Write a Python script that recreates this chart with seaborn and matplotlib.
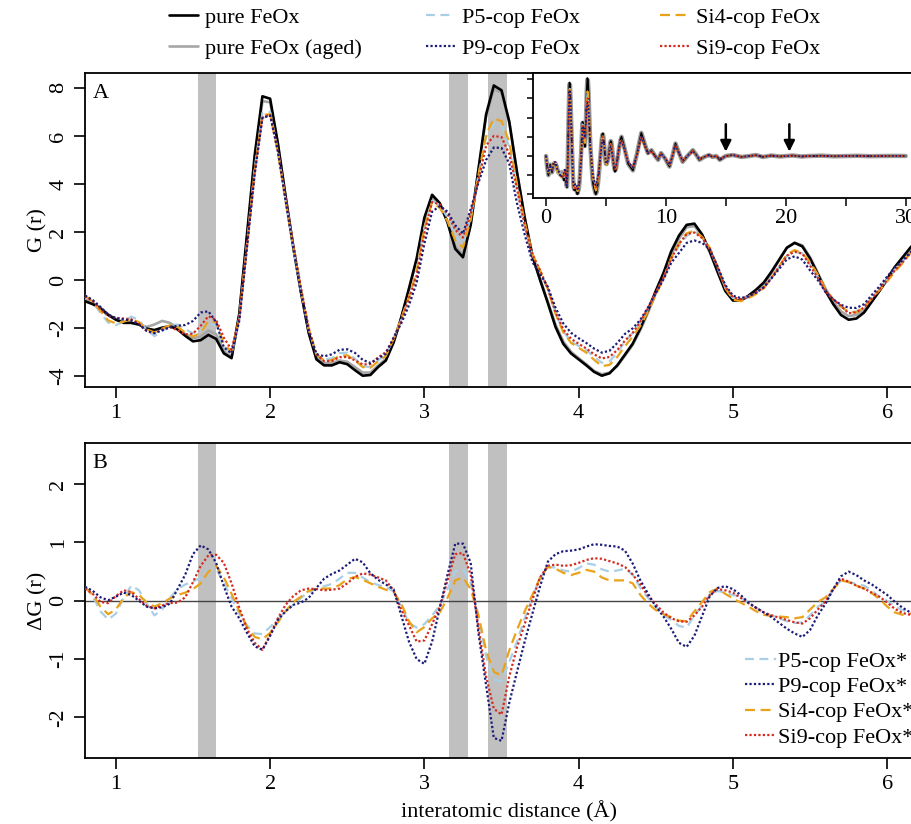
import numpy as np
import pandas as pd
import matplotlib
matplotlib.use("Agg")
import matplotlib.pyplot as plt
from matplotlib.lines import Line2D
import seaborn as sns

# interatomic distance grid (Å) for the short-range curves
r = np.round(np.arange(0.80, 6.2001, 0.05), 2)

# G(r) of the six samples (panel A)
g_pure = [-0.88, -1.00, -1.18, -1.45, -1.65, -1.78, -1.78, -1.85, -2.02, -2.08,
          -1.98, -1.92, -2.05, -2.32, -2.55, -2.50, -2.28, -2.45, -3.05, -3.25,
          -1.40, 1.90, 5.20, 7.65, 7.55, 5.70, 3.50, 1.40, -0.50, -2.20,
          -3.30, -3.55, -3.55, -3.42, -3.50, -3.75, -3.98, -3.95, -3.62, -3.35,
          -2.60, -1.55, -0.35, 0.90, 2.60, 3.55, 3.20, 2.40, 1.30, 0.95,
          2.30, 4.60, 6.90, 8.10, 7.90, 6.60, 4.50, 2.60, 1.00, 0.00,
          -0.95, -1.95, -2.65, -3.05, -3.30, -3.55, -3.82, -3.98, -3.88, -3.55,
          -3.10, -2.65, -2.00, -1.25, -0.45, 0.30, 1.20, 1.85, 2.30, 2.35,
          1.90, 1.20, 0.35, -0.45, -0.85, -0.85, -0.65, -0.40, -0.10, 0.35,
          0.85, 1.35, 1.55, 1.40, 0.90, 0.25, -0.45, -1.00, -1.45, -1.65,
          -1.60, -1.35, -0.90, -0.45, 0.05, 0.55, 0.95, 1.35, 1.70]
g_aged = [-0.80, -0.95, -1.15, -1.42, -1.62, -1.75, -1.78, -1.85, -1.95, -1.85,
          -1.70, -1.78, -2.00, -2.25, -2.42, -2.35, -2.10, -2.25, -2.95, -3.20,
          -1.45, 1.75, 5.00, 7.45, 7.40, 5.65, 3.45, 1.35, -0.50, -2.15,
          -3.20, -3.45, -3.45, -3.35, -3.40, -3.62, -3.85, -3.85, -3.55, -3.28,
          -2.60, -1.60, -0.40, 0.85, 2.50, 3.45, 3.15, 2.40, 1.40, 1.05,
          2.30, 4.55, 6.80, 7.95, 7.80, 6.55, 4.50, 2.60, 1.05, 0.05,
          -0.90, -1.85, -2.55, -2.98, -3.25, -3.50, -3.78, -3.92, -3.85, -3.58,
          -3.15, -2.70, -2.08, -1.35, -0.55, 0.20, 1.05, 1.72, 2.20, 2.25,
          1.85, 1.15, 0.35, -0.40, -0.82, -0.85, -0.70, -0.48, -0.15, 0.30,
          0.85, 1.35, 1.55, 1.45, 0.95, 0.30, -0.35, -0.90, -1.30, -1.50,
          -1.45, -1.25, -0.85, -0.45, 0.00, 0.45, 0.85, 1.20, 1.55]
g_p5 = [-0.64, -0.92, -1.36, -1.77, -1.87, -1.73, -1.52, -1.67, -2.07, -2.33,
        -2.13, -1.87, -1.85, -2.04, -2.22, -2.10, -1.76, -1.90, -2.75, -3.10,
        -1.62, 1.48, 4.64, 6.95, 7.00, 5.38, 3.32, 1.33, -0.45, -2.05,
        -3.10, -3.30, -3.26, -3.04, -3.02, -3.27, -3.58, -3.63, -3.35, -3.11,
        -2.44, -1.65, -0.73, 0.44, 2.20, 3.30, 3.12, 2.60, 1.80, 1.50,
        2.60, 4.35, 5.95, 6.50, 6.45, 5.55, 3.80, 2.30, 1.05, 0.40,
        -0.37, -1.38, -2.13, -2.55, -2.74, -2.91, -3.20, -3.44, -3.38, -3.03,
        -2.55, -2.20, -1.78, -1.20, -0.55, 0.06, 0.87, 1.42, 1.84, 2.03,
        1.78, 1.30, 0.52, -0.31, -0.75, -0.78, -0.68, -0.52, -0.30, 0.10,
        0.55, 1.00, 1.17, 1.12, 0.65, 0.15, -0.47, -0.80, -1.10, -1.33,
        -1.31, -1.09, -0.72, -0.39, 0.05, 0.45, 0.79, 1.15, 1.48]
g_p9 = [-0.64, -0.83, -1.12, -1.44, -1.58, -1.64, -1.68, -1.85, -2.12, -2.21,
        -2.09, -1.97, -1.90, -1.87, -1.70, -1.35, -1.30, -1.75, -2.80, -3.05,
        -1.70, 1.35, 4.42, 6.75, 6.85, 5.37, 3.32, 1.33, -0.53, -2.15,
        -3.08, -3.17, -3.09, -2.90, -2.88, -3.03, -3.32, -3.45, -3.26, -3.07,
        -2.40, -1.80, -1.05, -0.10, 1.52, 2.85, 3.08, 2.85, 2.28, 1.93,
        2.95, 4.05, 5.00, 5.52, 5.50, 4.85, 3.20, 1.90, 0.75, 0.25,
        -0.28, -1.15, -1.80, -2.19, -2.42, -2.62, -2.85, -3.02, -2.94, -2.62,
        -2.24, -2.01, -1.65, -1.13, -0.55, 0.03, 0.72, 1.13, 1.55, 1.65,
        1.55, 1.28, 0.57, -0.20, -0.65, -0.75, -0.68, -0.52, -0.30, 0.07,
        0.47, 0.87, 0.99, 0.85, 0.40, 0.00, -0.50, -0.80, -1.03, -1.15,
        -1.16, -1.00, -0.62, -0.26, 0.15, 0.53, 0.83, 1.15, 1.46]
g_si4 = [-0.64, -0.90, -1.28, -1.68, -1.80, -1.73, -1.63, -1.75, -2.05, -2.18,
         -2.02, -1.88, -1.95, -2.18, -2.35, -2.20, -1.70, -1.75, -2.65, -3.00,
         -1.58, 1.45, 4.58, 6.88, 6.90, 5.33, 3.32, 1.38, -0.43, -2.03,
         -3.09, -3.34, -3.34, -3.15, -3.13, -3.34, -3.62, -3.65, -3.38, -3.16,
         -2.45, -1.60, -0.70, 0.36, 2.15, 3.25, 3.00, 2.45, 1.65, 1.35,
         2.50, 4.35, 6.05, 6.72, 6.62, 5.75, 4.00, 2.42, 1.10, 0.40,
         -0.37, -1.40, -2.17, -2.61, -2.82, -3.02, -3.32, -3.58, -3.53, -3.20,
         -2.75, -2.35, -1.90, -1.30, -0.61, 0.07, 0.92, 1.51, 1.95, 2.05,
         1.80, 1.35, 0.56, -0.33, -0.81, -0.88, -0.75, -0.58, -0.34, 0.09,
         0.58, 1.07, 1.25, 1.12, 0.75, 0.23, -0.39, -0.80, -1.10, -1.33,
         -1.34, -1.14, -0.77, -0.42, -0.05, 0.35, 0.71, 1.13, 1.50]
g_si9 = [-0.67, -0.88, -1.20, -1.49, -1.57, -1.60, -1.63, -1.82, -2.11, -2.21,
         -2.06, -1.96, -2.08, -2.26, -2.23, -1.90, -1.50, -1.66, -2.40, -2.90,
         -1.60, 1.42, 4.45, 6.75, 6.90, 5.40, 3.43, 1.48, -0.32, -1.99,
         -3.10, -3.37, -3.36, -3.21, -3.20, -3.34, -3.51, -3.50, -3.22, -3.00,
         -2.42, -1.70, -0.77, 0.20, 1.95, 3.25, 3.15, 2.75, 2.10, 1.77,
         2.75, 4.15, 5.60, 6.00, 5.95, 5.25, 3.80, 2.30, 1.05, 0.40,
         -0.35, -1.33, -2.05, -2.44, -2.65, -2.85, -3.09, -3.26, -3.20, -2.91,
         -2.52, -2.20, -1.72, -1.17, -0.51, 0.10, 0.90, 1.50, 1.92, 1.98,
         1.75, 1.30, 0.55, -0.27, -0.71, -0.80, -0.69, -0.52, -0.30, 0.10,
         0.56, 1.02, 1.18, 1.10, 0.60, 0.10, -0.46, -0.80, -1.07, -1.38,
         -1.34, -1.14, -0.76, -0.38, 0.02, 0.41, 0.74, 1.11, 1.45]

# difference curves ΔG(r) (panel B)
dg_p5 = [0.24, 0.08, -0.18, -0.32, -0.22, 0.05, 0.26, 0.18, -0.05, -0.25,
         -0.15, 0.05, 0.20, 0.28, 0.33, 0.40, 0.52, 0.55, 0.30, 0.05,
         -0.22, -0.42, -0.56, -0.57, -0.45, -0.32, -0.18, -0.07, 0.05, 0.15,
         0.20, 0.25, 0.29, 0.38, 0.48, 0.48, 0.40, 0.32, 0.27, 0.24,
         0.16, -0.10, -0.38, -0.46, -0.40, -0.25, -0.08, 0.20, 0.50, 0.55,
         0.30, -0.25, -0.95, -1.35, -1.38, -1.05, -0.70, -0.30, 0.05, 0.40,
         0.58, 0.57, 0.52, 0.50, 0.56, 0.64, 0.62, 0.54, 0.50, 0.52,
         0.55, 0.45, 0.22, 0.05, -0.10, -0.24, -0.33, -0.43, -0.46, -0.25,
         -0.08, 0.10, 0.17, 0.14, 0.10, 0.07, -0.03, -0.12, -0.20, -0.25,
         -0.30, -0.35, -0.38, -0.37, -0.25, -0.10, -0.02, 0.20, 0.35, 0.32,
         0.29, 0.26, 0.18, 0.06, 0.00, -0.10, -0.16, -0.20, -0.22]
dg_p9 = [0.24, 0.17, 0.06, 0.01, 0.07, 0.14, 0.10, 0.00, -0.10, -0.13,
         -0.11, -0.05, 0.20, 0.45, 0.80, 0.95, 0.88, 0.65, 0.25, -0.10,
         -0.30, -0.55, -0.78, -0.84, -0.60, -0.33, -0.18, -0.07, -0.03, 0.05,
         0.22, 0.38, 0.46, 0.52, 0.62, 0.72, 0.66, 0.47, 0.36, 0.28,
         0.20, -0.25, -0.70, -1.00, -1.08, -0.70, -0.12, 0.45, 0.98, 0.98,
         0.65, -0.55, -1.45, -2.35, -2.40, -1.75, -1.22, -0.70, -0.22, 0.25,
         0.67, 0.80, 0.85, 0.86, 0.88, 0.93, 0.97, 0.96, 0.94, 0.93,
         0.86, 0.64, 0.35, 0.12, -0.10, -0.27, -0.48, -0.72, -0.79, -0.60,
         -0.26, 0.08, 0.22, 0.25, 0.20, 0.10, -0.03, -0.12, -0.20, -0.28,
         -0.38, -0.48, -0.56, -0.62, -0.50, -0.25, -0.05, 0.20, 0.42, 0.50,
         0.44, 0.35, 0.28, 0.19, 0.10, -0.02, -0.12, -0.20, -0.24]
dg_si4 = [0.24, 0.10, -0.10, -0.23, -0.15, 0.05, 0.15, 0.10, -0.03, -0.10,
          -0.04, 0.04, 0.10, 0.14, 0.20, 0.30, 0.50, 0.60, 0.40, 0.12,
          -0.18, -0.45, -0.62, -0.66, -0.55, -0.37, -0.18, -0.02, 0.07, 0.17,
          0.21, 0.21, 0.21, 0.27, 0.37, 0.41, 0.36, 0.30, 0.24, 0.19,
          0.15, -0.05, -0.35, -0.54, -0.45, -0.30, -0.20, 0.05, 0.35, 0.40,
          0.20, -0.25, -0.85, -1.22, -1.28, -0.85, -0.50, -0.18, 0.10, 0.40,
          0.58, 0.55, 0.48, 0.44, 0.48, 0.53, 0.50, 0.40, 0.35, 0.35,
          0.35, 0.30, 0.10, -0.05, -0.16, -0.23, -0.28, -0.34, -0.35, -0.18,
          -0.02, 0.15, 0.21, 0.12, 0.04, -0.03, -0.10, -0.18, -0.24, -0.26,
          -0.27, -0.28, -0.30, -0.28, -0.15, -0.02, 0.06, 0.20, 0.35, 0.32,
          0.26, 0.21, 0.13, 0.03, -0.10, -0.20, -0.24, -0.22, -0.20]
dg_si9 = [0.21, 0.12, -0.02, -0.04, 0.08, 0.18, 0.15, 0.03, -0.09, -0.13,
          -0.08, -0.04, -0.03, 0.06, 0.32, 0.60, 0.78, 0.79, 0.65, 0.30,
          -0.12, -0.48, -0.72, -0.84, -0.58, -0.30, -0.07, 0.08, 0.18, 0.21,
          0.20, 0.18, 0.19, 0.21, 0.30, 0.41, 0.47, 0.45, 0.40, 0.35,
          0.18, -0.15, -0.42, -0.70, -0.68, -0.40, -0.10, 0.35, 0.80, 0.82,
          0.45, -0.45, -1.30, -1.85, -1.95, -1.30, -0.80, -0.40, 0.02, 0.40,
          0.60, 0.62, 0.60, 0.61, 0.65, 0.70, 0.73, 0.72, 0.68, 0.64,
          0.58, 0.45, 0.28, 0.08, -0.06, -0.20, -0.30, -0.35, -0.36, -0.25,
          -0.10, 0.10, 0.20, 0.18, 0.14, 0.05, -0.04, -0.12, -0.20, -0.25,
          -0.29, -0.33, -0.37, -0.39, -0.30, -0.15, -0.01, 0.20, 0.38, 0.33,
          0.26, 0.21, 0.14, 0.07, -0.03, -0.14, -0.21, -0.24, -0.25]

# shaded distance windows (Å)
band_lo = [1.53, 3.16, 3.41]
band_hi = [1.65, 3.285, 3.535]

# full-range PDF for the inset: short-r start and long-r tail
head_r = [0.0, 0.1, 0.2, 0.35, 0.5, 0.65]
head_pure = [0.0, -1.2, -2.0, -0.9, -1.7, -0.8]
head_cop = [0.0, -1.0, -1.7, -1.1, -1.5, -0.6]
tail_r = [6.3, 6.55, 6.85, 7.25, 7.6, 7.95, 8.25, 8.5, 8.8, 9.1,
          9.35, 9.6, 9.95, 10.3, 10.55, 10.8, 11.1, 11.4, 11.8, 12.25,
          12.55, 12.8, 13.2, 13.6, 13.9, 14.2, 14.5, 15.0, 15.6, 16.3,
          17.0, 17.5, 18.1, 18.8, 19.5, 20.0, 20.6, 21.3, 22.0, 23.0,
          24.0, 25.0, 26.0, 27.0, 28.0, 29.0, 30.0]
tail_pure = [2.0, 0.8, -0.8, -1.5, 0.3, 2.4, 1.2, 0.3, 0.6, 0.0,
             -0.4, 0.3, -0.3, -1.1, 0.0, 1.3, 0.3, -0.6, 0.0, 0.6,
             0.1, -0.4, -0.1, 0.1, -0.1, 0.0, -0.4, 0.0, 0.1, -0.1,
             0.0, 0.1, -0.1, 0.05, -0.05, 0.0, 0.05, -0.05, 0.0, 0.03,
             -0.03, 0.0, 0.02, -0.02, 0.0, 0.01, 0.0]
tail_cop = [1.6, 0.6, -0.6, -1.2, 0.2, 2.0, 1.0, 0.25, 0.5, 0.0,
            -0.3, 0.25, -0.25, -0.9, 0.0, 1.1, 0.25, -0.5, 0.0, 0.5,
            0.1, -0.3, -0.1, 0.1, -0.1, 0.0, -0.3, 0.0, 0.1, -0.1,
            0.0, 0.08, -0.08, 0.04, -0.04, 0.0, 0.04, -0.04, 0.0, 0.02,
            -0.02, 0.0, 0.02, -0.02, 0.0, 0.01, 0.0]
arrow_r = [15.0, 20.3]

labels_a = ["pure FeOx", "pure FeOx (aged)", "P5-cop FeOx", "P9-cop FeOx",
            "Si4-cop FeOx", "Si9-cop FeOx"]
labels_b = ["P5-cop FeOx*", "P9-cop FeOx*", "Si4-cop FeOx*", "Si9-cop FeOx*"]
xticks = [1, 2, 3, 4, 5, 6]
yticks_a = [-4, -2, 0, 2, 4, 6, 8]
yticks_b = [-2, -1, 0, 1, 2]

sns.set_theme(style="ticks")
plt.rcParams["font.family"] = ["Liberation Serif", "DejaVu Serif"]
plt.rcParams["axes.unicode_minus"] = False
plt.rcParams["axes.edgecolor"] = "black"
plt.rcParams["xtick.color"] = "black"
plt.rcParams["ytick.color"] = "black"
plt.rcParams["text.color"] = "black"
plt.rcParams["axes.labelcolor"] = "black"

FS = 16
C_PURE, C_AGED = "#000000", "#a6a6a6"
C_P5, C_P9, C_SI4, C_SI9 = "#a9cfe6", "#1c1c78", "#eaa21a", "#d42b1e"

style = {
    "pure": dict(color=C_PURE, linewidth=1.9, linestyle="-"),
    "aged": dict(color=C_AGED, linewidth=1.9, linestyle="-"),
    "p5": dict(color=C_P5, linewidth=1.6, linestyle=(0, (4, 2.5))),
    "p9": dict(color=C_P9, linewidth=1.6, linestyle=(0, (1, 1))),
    "si4": dict(color=C_SI4, linewidth=1.6, linestyle=(0, (4.5, 2.5))),
    "si9": dict(color=C_SI9, linewidth=1.6, linestyle=(0, (1, 1))),
}

W, H = 912, 824
fig = plt.figure(figsize=(W / 100, H / 100), dpi=100)

def frac(x0, y0, x1, y1):
    return [x0 / W, 1 - y1 / H, (x1 - x0) / W, (y1 - y0) / H]

ax_a = fig.add_axes(frac(85, 73, 933.5, 387))
ax_b = fig.add_axes(frac(85, 443.3, 933.5, 758.3))

def style_axes(ax, yticks, ylim):
    ax.set_xlim(0.8, 6.3)
    ax.set_ylim(*ylim)
    ax.set_xticks(xticks)
    ax.set_xticklabels([str(t) for t in xticks])
    ax.set_yticks(yticks)
    ax.set_yticklabels([str(t) for t in yticks])
    ax.tick_params(axis="both", direction="out", length=8, width=1.2,
                   labelsize=FS, pad=4)
    ax.tick_params(axis="y", labelrotation=90)
    plt.setp(ax.get_yticklabels(), va="center")
    for s in ax.spines.values():
        s.set_linewidth(1.3)
        s.set_color("black")
    for lo, hi in zip(band_lo, band_hi):
        ax.axvspan(lo, hi, color="#c0c0c0", lw=0, zorder=0)

style_axes(ax_a, yticks_a, (-4.45, 8.62))
style_axes(ax_b, yticks_b, (-2.7, 2.7))

# panel A curves
for key, vals in [("aged", g_aged), ("pure", g_pure), ("p5", g_p5),
                  ("si4", g_si4), ("si9", g_si9), ("p9", g_p9)]:
    sns.lineplot(x=r, y=vals, ax=ax_a, legend=False, zorder=3, **style[key])

# panel B curves
ax_b.axhline(0, color="#444444", lw=1.0, zorder=2)
for key, vals in [("p5", dg_p5), ("si4", dg_si4), ("si9", dg_si9), ("p9", dg_p9)]:
    sns.lineplot(x=r, y=vals, ax=ax_b, legend=False, zorder=3, **style[key])

ax_a.set_xlabel("")
ax_a.set_ylabel("G (r)", fontsize=FS, labelpad=1)
ax_b.set_ylabel("ΔG (r)", fontsize=FS, labelpad=1)
ax_b.set_xlabel("interatomic distance (Å)", fontsize=FS, labelpad=5)
ax_a.text(0.009, 0.965, "A", transform=ax_a.transAxes, fontsize=FS,
          ha="left", va="top")
ax_b.text(0.009, 0.965, "B", transform=ax_b.transAxes, fontsize=FS,
          ha="left", va="top")

# inset with the full-range PDF
ax_in = fig.add_axes(frac(533.3, 73.3, 920, 198.3))
ax_in.set_facecolor("white")
ax_in.set_zorder(5)
full_r = np.concatenate([head_r, r, tail_r])
inset_series = [
    ("aged", np.concatenate([head_pure, g_aged, tail_pure]), 3.2),
    ("pure", np.concatenate([head_pure, g_pure, tail_pure]), 1.2),
    ("p5", np.concatenate([head_cop, g_p5, tail_cop]), 1.2),
    ("si4", np.concatenate([head_cop, g_si4, tail_cop]), 1.4),
    ("si9", np.concatenate([head_cop, g_si9, tail_cop]), 1.3),
    ("p9", np.concatenate([head_cop, g_p9, tail_cop]), 1.3),
]
for key, vals, lw in inset_series:
    kw = dict(style[key])
    kw["linewidth"] = lw
    if key == "aged":
        kw["color"] = "#9a9a9a"
    sns.lineplot(x=full_r, y=vals, ax=ax_in, legend=False, **kw)
ax_in.set_xlim(-1.06, 31.2)
ax_in.set_ylim(-4.4, 8.6)
ax_in.set_xticks([0, 5, 10, 15, 20, 25, 30])
ax_in.set_xticklabels(["0", "", "10", "", "20", "", "30"])
ax_in.set_yticks([-4, -2, 0, 2, 4, 6, 8])
ax_in.set_yticklabels([])
ax_in.set_xlabel("")
ax_in.set_ylabel("")
ax_in.tick_params(axis="x", direction="out", length=6, width=1.1,
                  labelsize=FS, pad=2)
ax_in.tick_params(axis="y", direction="out", length=4, width=1.1)
for s in ax_in.spines.values():
    s.set_linewidth(1.3)
    s.set_color("black")
for xa in arrow_r:
    ax_in.annotate("", xy=(xa, 0.45), xytext=(xa, 3.3),
                   arrowprops=dict(arrowstyle="-|>", color="black", lw=1.8,
                                   mutation_scale=16, shrinkA=0, shrinkB=0))

def handle(key):
    return Line2D([0], [0], **style[key])

# top legend, three columns
cols = [(["pure", "aged"], labels_a[0:2], 169),
        (["p5", "p9"], labels_a[2:4], 426),
        (["si4", "si9"], labels_a[4:6], 660)]
for keys, labs, x0 in cols:
    fig.legend([handle(k) for k in keys], labs, loc="upper left",
               bbox_to_anchor=(x0 / W, 1 - 7 / H), frameon=False,
               fontsize=FS, handlelength=1.3, handletextpad=0.3,
               labelspacing=0.47, borderpad=0, borderaxespad=0)

# panel B legend
fig.legend([handle(k) for k in ["p5", "p9", "si4", "si9"]], labels_b,
           loc="upper left", bbox_to_anchor=(745 / W, 1 - 651 / H),
           frameon=False, fontsize=FS, handlelength=1.4, handletextpad=0.1,
           labelspacing=0.22, borderpad=0, borderaxespad=0)

fig.savefig("out.png", dpi=100)
